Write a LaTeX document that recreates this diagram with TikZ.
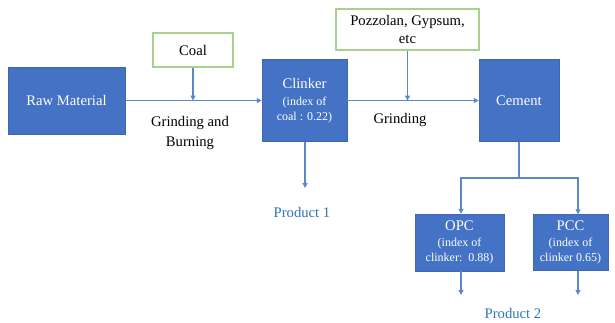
\documentclass[tikz,border=0pt]{standalone}
\usepackage{fontspec}
\setmainfont{Liberation Serif}
\usepackage{xcolor}
\definecolor{BoxBlue}{HTML}{4472C4}
\definecolor{LineBlue}{HTML}{5B87D0}
\definecolor{TagBlue}{HTML}{2E75B6}
\definecolor{SoftGreen}{HTML}{A9D18E}
\usetikzlibrary{positioning,calc,arrows.meta}
\newcommand{\smalltxt}{\fontsize{9}{11.5}\selectfont}

\begin{document}
\begin{tikzpicture}[x=0.75pt,y=-0.75pt,
 font=\fontsize{11}{13}\selectfont,
 stage/.style={rectangle,fill=BoxBlue,draw=BoxBlue!90!black,line width=0.4pt,text=white,align=center,inner sep=0pt,font=\fontsize{11}{11.5}\selectfont},
 additive/.style={rectangle,draw=SoftGreen,line width=0.8pt,fill=white,align=center,inner sep=0pt},
 flow/.style={draw=LineBlue,line width=0.8pt},
 flowarr/.style={flow,-{Triangle[width=3.6pt,length=3.6pt]}},
 tag/.style={text=TagBlue}]
\useasboundingbox (0,0) rectangle (615,322);
% main line of stages
\node[stage,minimum width=117*0.75pt,minimum height=67*0.75pt] (raw) at (66.5,100.5) {Raw Material};
\node[stage,minimum width=85*0.75pt,minimum height=82*0.75pt] (clinker) at (304.5,100.5) {Clinker\\[1.3pt]\smalltxt (index of\\\smalltxt coal : 0.22)};
\node[stage,minimum width=80*0.75pt,minimum height=82*0.75pt] (cement) at (519,100.5) {Cement};
% additives
\node[additive,minimum width=80*0.75pt,minimum height=34*0.75pt] (coal) at (193,50) {Coal};
\node[additive,minimum width=143*0.75pt,minimum height=41*0.75pt,align=center] (pozz) at (407.5,29.5) {Pozzolan, Gypsum,\\etc};
% cement types
\node[stage,minimum width=89*0.75pt,minimum height=57*0.75pt] (opc) at (459.5,242.5) {OPC\\[0.8pt]\smalltxt (index of\\\smalltxt clinker:\ \ 0.88)};
\node[stage,minimum width=75*0.75pt,minimum height=56*0.75pt] (pcc) at (570.5,242.5) {PCC\\[0.8pt]\smalltxt (index of\\\smalltxt clinker 0.65)};
% process labels
\node[align=center,font=\fontsize{11}{14.5}\selectfont] (grburn) at (190,133) {Grinding and\\Burning};
\node (grind) at (400,120) {Grinding};
\node[tag] (prod1) at (302,212) {Product 1};
\node[tag] (prod2) at (513,313) {Product 2};
% connectors
\coordinate (coalin) at (coal.south |- raw.east);
\coordinate (pozzin) at (pozz.south |- clinker.east);
\coordinate (out1) at (305,188);
\coordinate (split) at (cement.south |- 0,178);
\coordinate (opcin) at (461,178);
\coordinate (pccin) at (578,178);
\coordinate (out2a) at (461,295);
\coordinate (out2b) at (578,295);
\draw[flowarr] (raw.east) -- (clinker.west);
\draw[flowarr] (coal.south) -- (coalin);
\draw[flowarr] (clinker.east) -- (cement.west);
\draw[flowarr] (pozz.south) -- (pozzin);
\draw[flowarr] (clinker.south -| out1) -- (out1);
\draw[flow] (cement.south) -- (split);
\draw[flowarr] (split) -- (opcin) -- (opcin |- opc.north);
\draw[flowarr] (split) -- (pccin) -- (pccin |- pcc.north);
\draw[flowarr] (opc.south -| out2a) -- (out2a);
\draw[flowarr] (pcc.south -| out2b) -- (out2b);
\end{tikzpicture}
\end{document}
